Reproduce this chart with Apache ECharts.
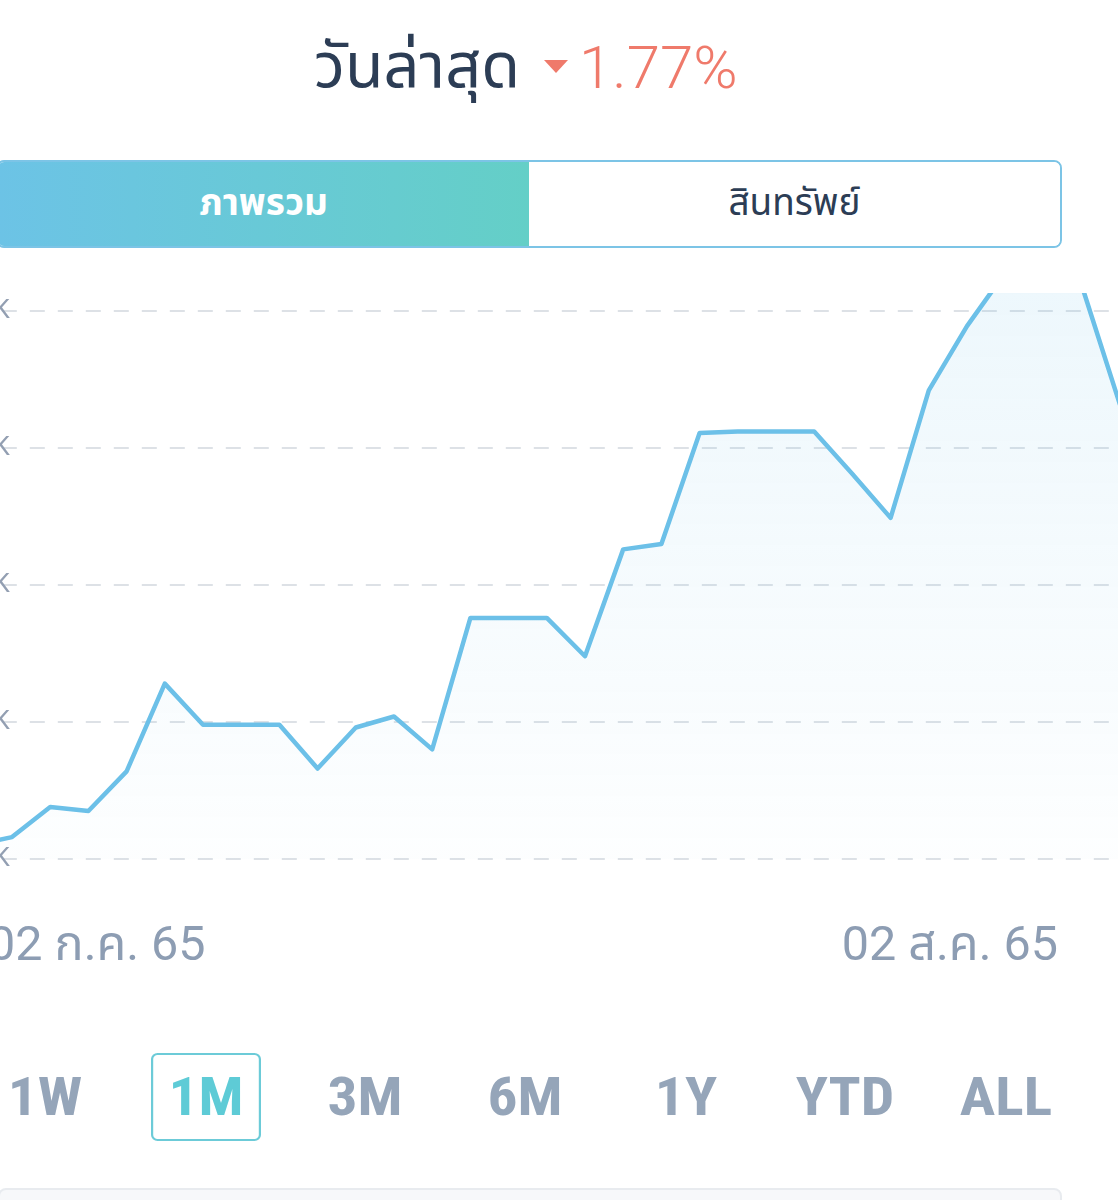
<!DOCTYPE html>
<html>
<head>
<meta charset="utf-8">
<script src="https://cdn.jsdelivr.net/npm/echarts@6/dist/echarts.min.js"></script>
<style>
  html, body { margin:0; padding:0; background:#ffffff; width:1118px; height:1200px; overflow:hidden; position:relative; }
  body { font-family: "Noto Sans Thai", "Noto Sans", Roboto, sans-serif; }
  .abs { position:absolute; white-space:nowrap; }
  #title { left:314px; top:26px; font-size:63px; color:#2c3d55; line-height:84px; font-weight:400; }
  #chg { left:544px; top:28px; font-size:60px; color:#ef7a6b; line-height:80px; font-weight:300; font-family: Roboto, "Noto Sans", sans-serif; }
  #chg .tri { display:inline-block; width:0; height:0; border-left:12px solid transparent; border-right:12px solid transparent; border-top:13px solid #ef7a6b; vertical-align:middle; margin-right:11px; position:relative; top:-6px; }
  #tabs { left:-4px; top:160px; width:1066px; height:88px; border:2px solid #7cc4e6; border-radius:8px; box-sizing:border-box; overflow:hidden; display:flex; }
  .tab { flex:1; display:flex; align-items:center; justify-content:center; font-size:37px; }
  .tab.on { background:linear-gradient(90deg,#6cc3e6,#64cfc7); color:#fff; font-weight:700; }
  .tab.off { background:#fff; color:#2c3d55; }
  #clip { left:0; top:293px; width:1118px; height:617px; overflow:hidden; }
  #chart { position:absolute; left:-100px; top:-143px; width:1300px; height:760px; }
  .xl { top:914px; font-size:48.5px; color:#8d9db3; line-height:60px; font-family: Roboto, "Noto Sans Thai", "Noto Sans", sans-serif; }
  #btns { left:0; top:1053px; width:1118px; height:88px; }
  .btn { position:absolute; top:0; height:88px; line-height:88px; font-size:54px; font-weight:700; color:#95a5b9; text-align:center; font-family:"Liberation Sans Narrow","Roboto Condensed","Arial Narrow",sans-serif; transform:translateX(-50%) scaleX(1.1); }
  .btn.sel { color:#5ecbd6; border:2px solid #6ccbd8; border-radius:6px; width:100px; box-sizing:border-box; line-height:84px; }
  #bottom { left:-2px; top:1188px; width:1064px; height:60px; background:#f7f8fa; border:2px solid #e8ebef; border-radius:8px; box-sizing:border-box; }
</style>
</head>
<body>
<div id="title" class="abs">วันล่าสุด</div>
<div id="chg" class="abs"><span class="tri"></span>1.77%</div>
<div id="tabs" class="abs"><div class="tab on">ภาพรวม</div><div class="tab off">สินทรัพย์</div></div>
<div id="clip" class="abs"><div id="chart"></div></div>
<div id="xl0" class="abs xl"></div>
<div id="xl1" class="abs xl"></div>
<div id="btns" class="abs"></div>
<div id="bottom" class="abs"></div>
<script>
// ---- data ----
const categories = [
  '02 ก.ค. 65','03 ก.ค. 65','04 ก.ค. 65','05 ก.ค. 65','06 ก.ค. 65','07 ก.ค. 65','08 ก.ค. 65','09 ก.ค. 65',
  '10 ก.ค. 65','11 ก.ค. 65','12 ก.ค. 65','13 ก.ค. 65','14 ก.ค. 65','15 ก.ค. 65','16 ก.ค. 65','17 ก.ค. 65',
  '18 ก.ค. 65','19 ก.ค. 65','20 ก.ค. 65','21 ก.ค. 65','22 ก.ค. 65','23 ก.ค. 65','24 ก.ค. 65','25 ก.ค. 65',
  '26 ก.ค. 65','27 ก.ค. 65','28 ก.ค. 65','29 ก.ค. 65','30 ก.ค. 65','31 ก.ค. 65','01 ส.ค. 65','02 ส.ค. 65'
];
const values = [
  100.5, 100.8, 101.9, 101.75, 103.2, 106.4, 104.9, 104.9,
  104.9, 103.3, 104.8, 105.2, 104.0, 108.8, 108.8, 108.8,
  107.4, 111.3, 111.5, 115.55, 115.6, 115.6, 115.6, 114.05,
  112.45, 117.1, 119.45, 121.4, 121.9, 120.95, 116.6, 114.5
];
const yTicks = [100, 105, 110, 115, 120, 125];
const ranges = ['1W','1M','3M','6M','1Y','YTD','ALL'];
const selectedRange = '1M';

// ---- UI text ----
const xl0 = document.getElementById('xl0');
xl0.textContent = categories[0];
xl0.style.left = '-12px';
const xl1 = document.getElementById('xl1');
xl1.textContent = categories[categories.length - 1];
xl1.style.right = '60px';
const btns = document.getElementById('btns');
const btnCenters = [45, 206, 365, 525, 686, 845, 1006];
ranges.forEach((r, i) => {
  const d = document.createElement('div');
  d.className = 'btn' + (r === selectedRange ? ' sel' : '');
  d.textContent = r;
  d.style.left = btnCenters[i] + 'px';
  btns.appendChild(d);
});

// ---- chart ----
const chart = echarts.init(document.getElementById('chart'), null, { renderer: 'canvas' });
chart.setOption({
  animation: false,
  grid: { left: 73.8, right: 42, top: 24, bottom: 51, containLabel: false },
  xAxis: {
    type: 'category', data: categories, boundaryGap: false,
    axisLine: { show: false }, axisTick: { show: false }, axisLabel: { show: false }, splitLine: { show: false }
  },
  yAxis: {
    type: 'value', min: yTicks[0], max: yTicks[yTicks.length - 1], interval: yTicks[1] - yTicks[0],
    axisLine: { show: false }, axisTick: { show: false },
    axisLabel: { margin: -36, color: '#939fb2', fontSize: 26, fontFamily: 'Roboto', formatter: v => v + 'K' },
    splitLine: { lineStyle: { color: '#dde1e6', width: 2, type: [15, 13] } }
  },
  series: [{
    type: 'line', data: values, symbol: 'none', smooth: false,
    lineStyle: { color: '#6cc0e8', width: 4.5, join: 'round' },
    areaStyle: {
      color: new echarts.graphic.LinearGradient(0, 0, 0, 1, [
        { offset: 0, color: 'rgba(108,192,232,0.18)' },
        { offset: 1, color: 'rgba(108,192,232,0.02)' }
      ])
    }
  }]
});
</script>
</body>
</html>
